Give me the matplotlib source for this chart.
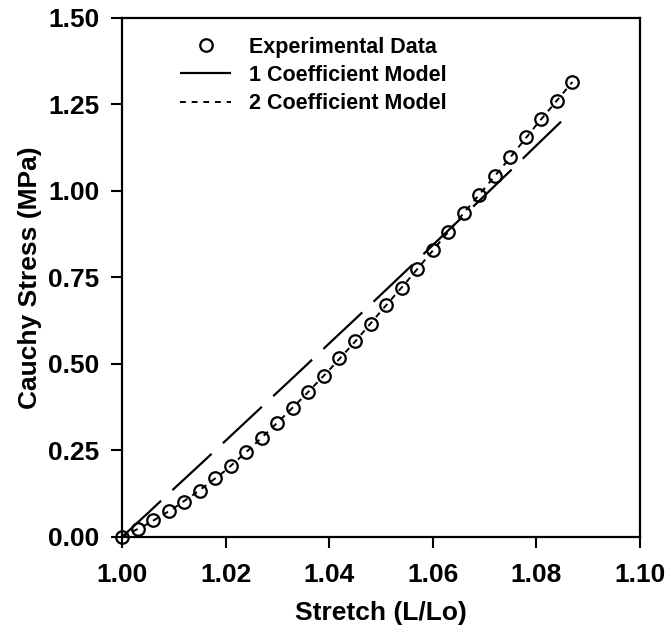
import matplotlib
matplotlib.use("Agg")
import matplotlib.pyplot as plt

# --- DATA ---
stretch_exp = [1.000, 1.003, 1.006, 1.009, 1.012, 1.015, 1.018, 1.021, 1.024, 1.027,
               1.030, 1.033, 1.036, 1.039, 1.042, 1.045, 1.048, 1.051, 1.054, 1.057,
               1.060, 1.063, 1.066, 1.069, 1.072, 1.075, 1.078, 1.081, 1.084, 1.087]
stress_exp = [0.000, 0.023, 0.049, 0.075, 0.100, 0.133, 0.170, 0.205, 0.246, 0.286,
              0.330, 0.373, 0.419, 0.465, 0.517, 0.566, 0.615, 0.670, 0.720, 0.775,
              0.829, 0.880, 0.936, 0.988, 1.043, 1.098, 1.156, 1.208, 1.260, 1.315]

stretch_model = [1.000, 1.005, 1.010, 1.015, 1.020, 1.025, 1.030, 1.035, 1.040, 1.045,
                 1.050, 1.055, 1.060, 1.065, 1.070, 1.075, 1.080, 1.085, 1.087]
stress_1coef = [0.000, 0.069, 0.139, 0.208, 0.278, 0.348, 0.418, 0.488, 0.559, 0.629,
                0.700, 0.771, 0.843, 0.914, 0.986, 1.058, 1.131, 1.203, 1.218]
stress_2coef = [0.000, 0.038, 0.083, 0.135, 0.192, 0.259, 0.330, 0.404, 0.482, 0.564,
                0.652, 0.738, 0.827, 0.918, 1.007, 1.097, 1.190, 1.279, 1.315]

x_ticks = [1.00, 1.02, 1.04, 1.06, 1.08, 1.10]
y_ticks = [0.00, 0.25, 0.50, 0.75, 1.00, 1.25, 1.50]

plt.rcParams['font.family'] = ['Liberation Sans', 'DejaVu Sans']
plt.rcParams['font.weight'] = 'bold'

fig = plt.figure(figsize=(6.72, 6.33), dpi=100)
ax = fig.add_axes([0.1815, 0.1517, 0.7705, 0.82])

ax.plot(stretch_exp, stress_exp, linestyle='none', marker='o', markersize=9,
        markerfacecolor='none', markeredgecolor='black', markeredgewidth=1.6,
        label='Experimental Data', zorder=3, clip_on=False)
ax.plot(stretch_model, stress_1coef, color='black', linewidth=1.6,
        dashes=(24, 7), label='1 Coefficient Model')
ax.plot(stretch_model, stress_2coef, color='black', linewidth=1.4,
        dashes=(3, 3), label='2 Coefficient Model')

ax.set_xlim(1.00, 1.10)
ax.set_ylim(0.0, 1.5)
ax.set_xticks(x_ticks)
ax.set_yticks(y_ticks)
ax.set_xticklabels([f"{v:.2f}" for v in x_ticks])
ax.set_yticklabels([f"{v:.2f}" for v in y_ticks])
ax.tick_params(axis='x', direction='out', length=8, width=1.5, labelsize=19, pad=11)
ax.tick_params(axis='y', direction='out', length=8, width=1.5, labelsize=19, pad=8)

for s in ax.spines.values():
    s.set_linewidth(1.6)

ax.set_xlabel('Stretch (L/Lo)', fontsize=19, fontweight='bold', labelpad=10)
ax.set_ylabel('Cauchy Stress (MPa)', fontsize=19, fontweight='bold', labelpad=5)

ax.legend(loc='upper left', bbox_to_anchor=(0.095, 0.98), frameon=False,
          fontsize=15.5, handlelength=2.4, handletextpad=0.8, labelspacing=0.33,
          borderaxespad=0)

fig.savefig("out.png", dpi=100)
